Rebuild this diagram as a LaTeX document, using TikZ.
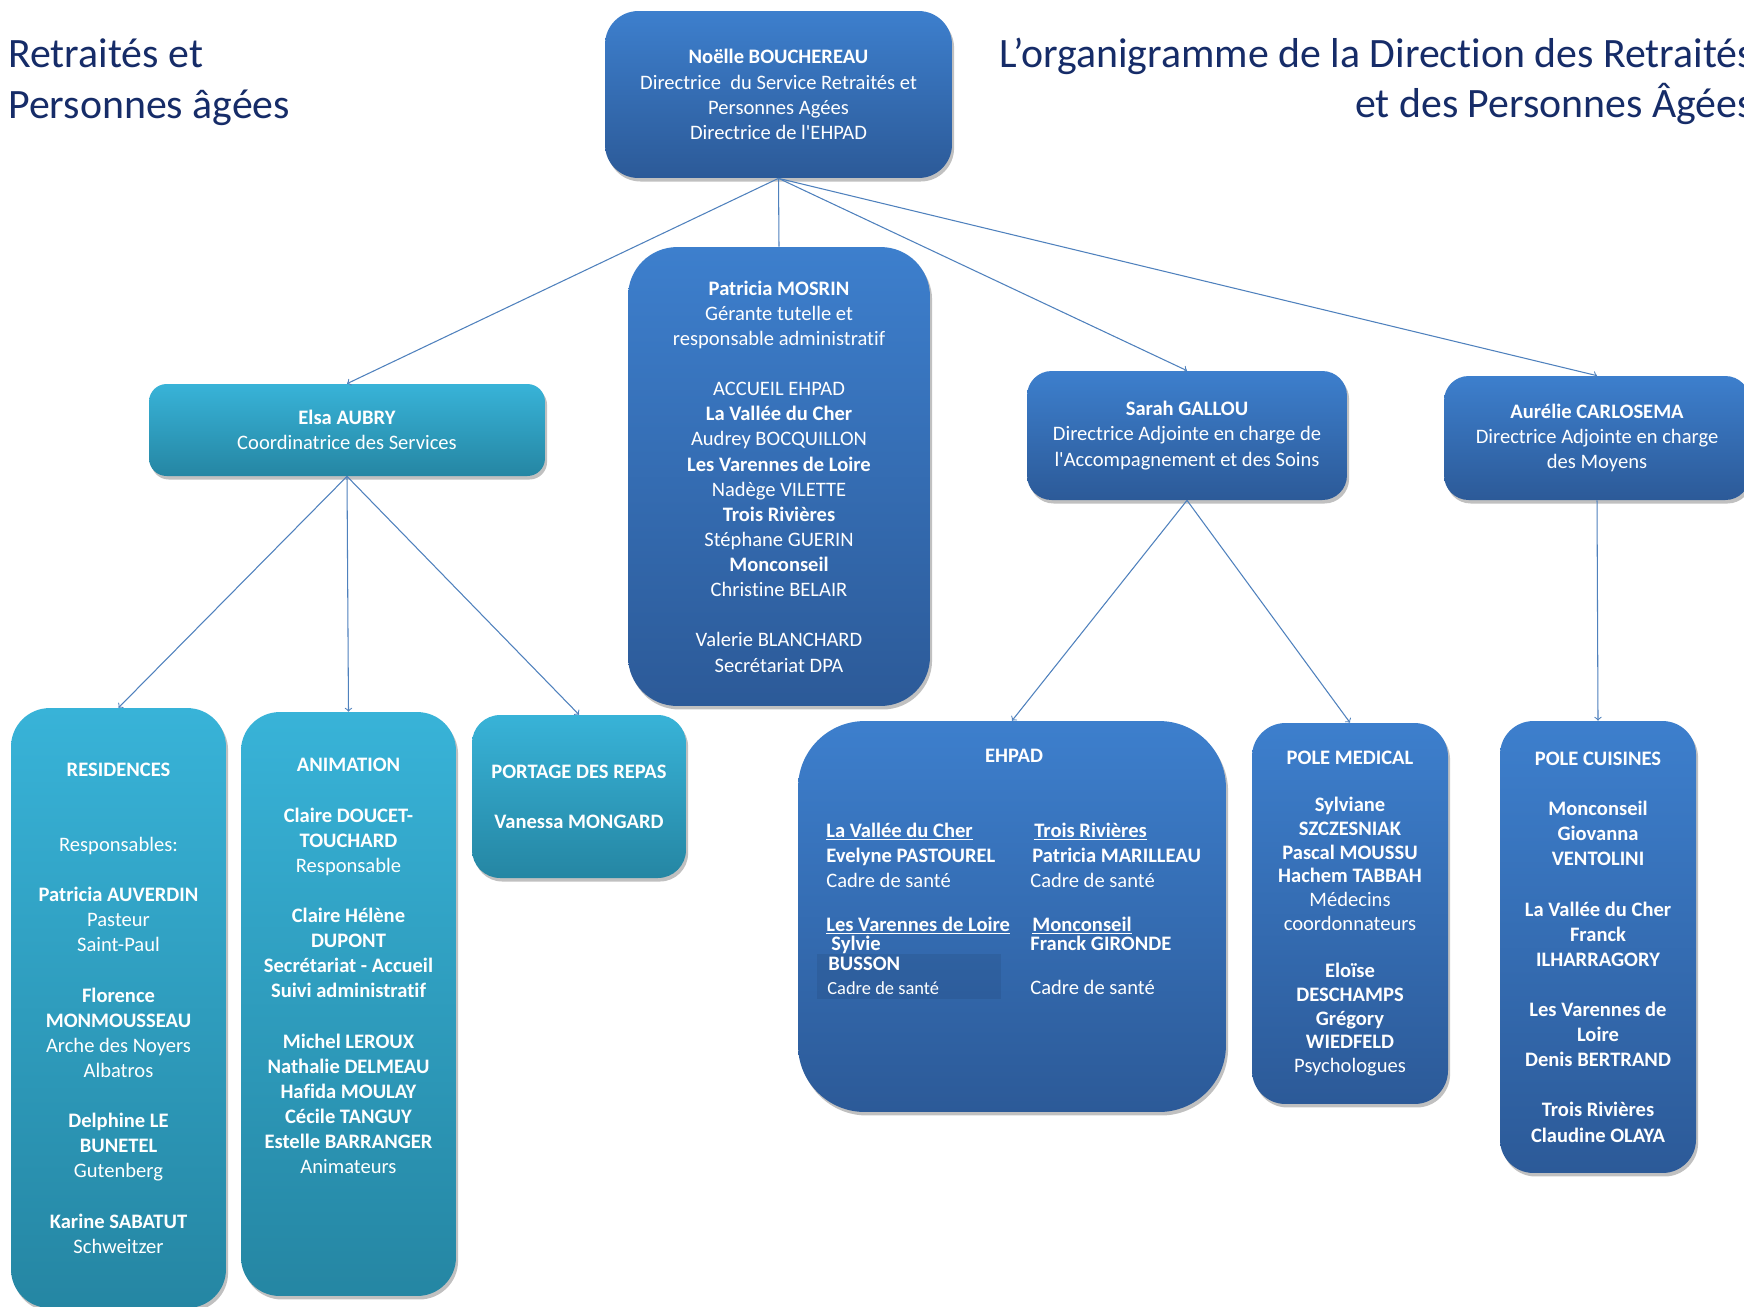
\documentclass[tikz,border=0pt]{standalone}
\usepackage{fontspec}
\setmainfont[Ligatures={NoCommon}]{Carlito}
\usetikzlibrary{shapes.geometric, arrows, positioning, calc, shadows}

\definecolor{navy}{RGB}{22,44,104}
\definecolor{bluetop}{RGB}{61,127,205}
\definecolor{bluebot}{RGB}{44,90,152}
\definecolor{cyantop}{RGB}{56,179,216}
\definecolor{cyanbot}{RGB}{37,134,163}
\definecolor{linkblue}{RGB}{79,129,189}

\tikzset{
  body/.style={font=\fontsize{11.7}{14.3}\selectfont},
  ttl/.style={font=\fontsize{23.8}{29}\selectfont, text=navy, inner sep=0pt},
  unit/.style={body, text=white, align=center, inner sep=0pt,
    drop shadow={shadow xshift=1.2pt, shadow yshift=-2pt, opacity=0.35, fill=black!70}},
  bluebox/.style={unit, top color=bluetop, bottom color=bluebot},
  cyanbox/.style={unit, top color=cyantop, bottom color=cyanbot},
  etxt/.style={body, text=white, inner sep=0pt, anchor=base west},
  link/.style={draw=linkblue, line width=0.6pt}
}

\begin{document}
\begin{tikzpicture}[x=0.02cm, y=-0.02cm]
\useasboundingbox (0,0) rectangle (1744,1306);
\fill[white] (0,0) rectangle (1744,1306);
\clip (0,0) rectangle (1744,1306);

% titles
\node[ttl, anchor=base west] (ttl-a) at (8,67) {Retraités et};
\node[ttl, anchor=base west] (ttl-b) at (8,118) {Personnes âgées};
\node[ttl, anchor=base west] (ttl-c) at (999,67) {L’organigramme de la Direction des Retraités};
\node[ttl, anchor=base east] (ttl-d) at ([yshift=-29pt]ttl-c.base east) {et des Personnes Âgées};

% direction
\node[bluebox, rounded corners=19pt, minimum width=6.94cm, minimum height=3.34cm] (dir) at (778.5,94.5)
  {\textbf{Noëlle BOUCHEREAU}\\ Directrice~ du Service Retraités et\\ Personnes Agées\\ Directrice de l\textquotesingle EHPAD};

\node[bluebox, rounded corners=28pt, minimum width=6.04cm, minimum height=9.18cm] (mosrin) at (779,476.5)
  {\textbf{Patricia MOSRIN}\\ Gérante tutelle et\\ responsable administratif\\[14.3pt]
   ACCUEIL EHPAD\\ \textbf{La Vallée du Cher}\\ Audrey BOCQUILLON\\ \textbf{Les Varennes de Loire}\\
   Nadège VILETTE\\ \textbf{Trois Rivières}\\ Stéphane GUERIN\\ \textbf{Monconseil}\\
   Christine BELAIR\\[14.3pt] Valerie BLANCHARD\\ Secrétariat DPA};

\node[cyanbox, rounded corners=10pt, minimum width=7.92cm, minimum height=1.84cm] (aubry) at (347,430)
  {\textbf{Elsa AUBRY}\\ Coordinatrice des Services};

\node[bluebox, rounded corners=14pt, minimum width=6.4cm, minimum height=2.58cm] (gallou) at (1187,435.5)
  {\textbf{Sarah GALLOU}\\ Directrice Adjointe en charge de\\ l\textquotesingle Accompagnement et des Soins};

\node[bluebox, rounded corners=14pt, minimum width=6.12cm, minimum height=2.48cm] (carlo) at (1597,438)
  {\textbf{Aurélie CARLOSEMA}\\ Directrice Adjointe en charge\\ des Moyens};

% services
\node[cyanbox, rounded corners=22pt, minimum width=4.3cm, minimum height=12cm] (resid) at (118.5,1008)
  {\textbf{RESIDENCES}\\[28.6pt] Responsables:\\[14.3pt] \textbf{Patricia AUVERDIN}\\ Pasteur\\ Saint-Paul\\[14.3pt]
   \textbf{Florence}\\ \textbf{MONMOUSSEAU}\\ Arche des Noyers\\ Albatros\\[14.3pt]
   \textbf{Delphine LE}\\ \textbf{BUNETEL}\\ Gutenberg\\[14.3pt] \textbf{Karine SABATUT}\\ Schweitzer};

\node[cyanbox, rounded corners=22pt, minimum width=4.3cm, minimum height=11.68cm] (anim) at (348.5,1004) {};
\node[body, text=white, align=center, inner sep=0pt, anchor=north] (anim-t) at (348.5,758)
  {\textbf{ANIMATION}\\[14.3pt] \textbf{Claire DOUCET-}\\ \textbf{TOUCHARD}\\ Responsable\\[14.3pt]
   \textbf{Claire Hélène}\\ \textbf{DUPONT}\\ \textbf{Secrétariat - Accueil}\\ \textbf{Suivi administratif}\\[14.3pt]
   \textbf{Michel LEROUX}\\ \textbf{Nathalie DELMEAU}\\ \textbf{Hafida MOULAY}\\ \textbf{Cécile TANGUY}\\
   \textbf{Estelle BARRANGER}\\ Animateurs};

\node[cyanbox, rounded corners=16pt, minimum width=4.28cm, minimum height=3.26cm] (repas) at (579,796.5)
  {\textbf{PORTAGE DES REPAS}\\[14.3pt] \textbf{Vanessa MONGARD}};

\node[bluebox, rounded corners=38pt, minimum width=8.56cm, minimum height=7.82cm] (ehpad) at (1012,916.5) {};
\fill[black, opacity=0.07] (817,954) rectangle (1001,999);
\node[text=white, font=\fontsize{11.7}{14.3}\selectfont\bfseries, inner sep=0pt, anchor=base] (eh-t) at (1014,762) {EHPAD};
\node[etxt] (vc-a) at (826,837) {\underline{\textbf{La Vallée du Cher}}};
\node[etxt] (vc-b) at (826,862) {\textbf{Evelyne PASTOUREL}};
\node[etxt] (vc-c) at (826,887) {Cadre de santé};
\node[etxt] (tr-a) at (1034,837) {\underline{\textbf{Trois Rivières}}};
\node[etxt] (tr-b) at (1032,862) {\textbf{Patricia MARILLEAU}};
\node[etxt] (tr-c) at (1030,887) {Cadre de santé};
\node[etxt] (vl-a) at (826,931) {\underline{\textbf{Les Varennes de Loire}}};
\node[etxt] (vl-b) at (831,950) {\textbf{Sylvie}};
\node[etxt] (vl-c) at (828,970) {\textbf{BUSSON}};
\node[etxt, font=\fontsize{10.5}{12.6}\selectfont] (vl-d) at (827,994) {Cadre de santé};
\node[etxt] (mc-a) at (1032,931) {\underline{\textbf{Monconseil}}};
\node[etxt] (mc-b) at (1030,950) {\textbf{Franck GIRONDE}};
\node[etxt] (mc-c) at (1030,994) {Cadre de santé};

\node[bluebox, rounded corners=19pt, minimum width=3.92cm, minimum height=7.62cm,
  font=\fontsize{11.7}{13.5}\selectfont] (medic) at (1350,913.5)
  {\textbf{POLE MEDICAL}\\[13.5pt] \textbf{Sylviane}\\ \textbf{SZCZESNIAK}\\ \textbf{Pascal MOUSSU}\\
   \textbf{Hachem TABBAH}\\ Médecins\\ coordonnateurs\\[13.5pt] \textbf{Eloïse}\\ \textbf{DESCHAMPS}\\
   \textbf{Grégory}\\ \textbf{WIEDFELD}\\ Psychologues};

\node[bluebox, rounded corners=19pt, minimum width=3.92cm, minimum height=9.04cm,
  font=\fontsize{11.7}{14.3}\selectfont\bfseries] (cuis) at (1598,947)
  {POLE CUISINES\\[14.3pt] Monconseil\\ Giovanna\\ VENTOLINI\\[14.3pt] La Vallée du Cher\\ Franck\\
   ILHARRAGORY\\[14.3pt] Les Varennes de\\ Loire\\ Denis BERTRAND\\[14.3pt] Trois Rivières\\ Claudine OLAYA};

%connections
\draw[link] (dir.south) -- (mosrin.north);
\draw[link,->] (dir.south) -- (aubry.north);
\draw[link,->] (dir.south) -- (gallou.north);
\draw[link,->] (dir.south) -- (carlo.north);
\draw[link,->] (aubry.south) -- (resid.north);
\draw[link,->] (aubry.south) -- (anim.north);
\draw[link,->] (aubry.south) -- (repas.north);
\draw[link,->] (gallou.south) -- (ehpad.north);
\draw[link,->] (gallou.south) -- (medic.north);
\draw[link,->] (carlo.south) -- (cuis.north);
\end{tikzpicture}
\end{document}
